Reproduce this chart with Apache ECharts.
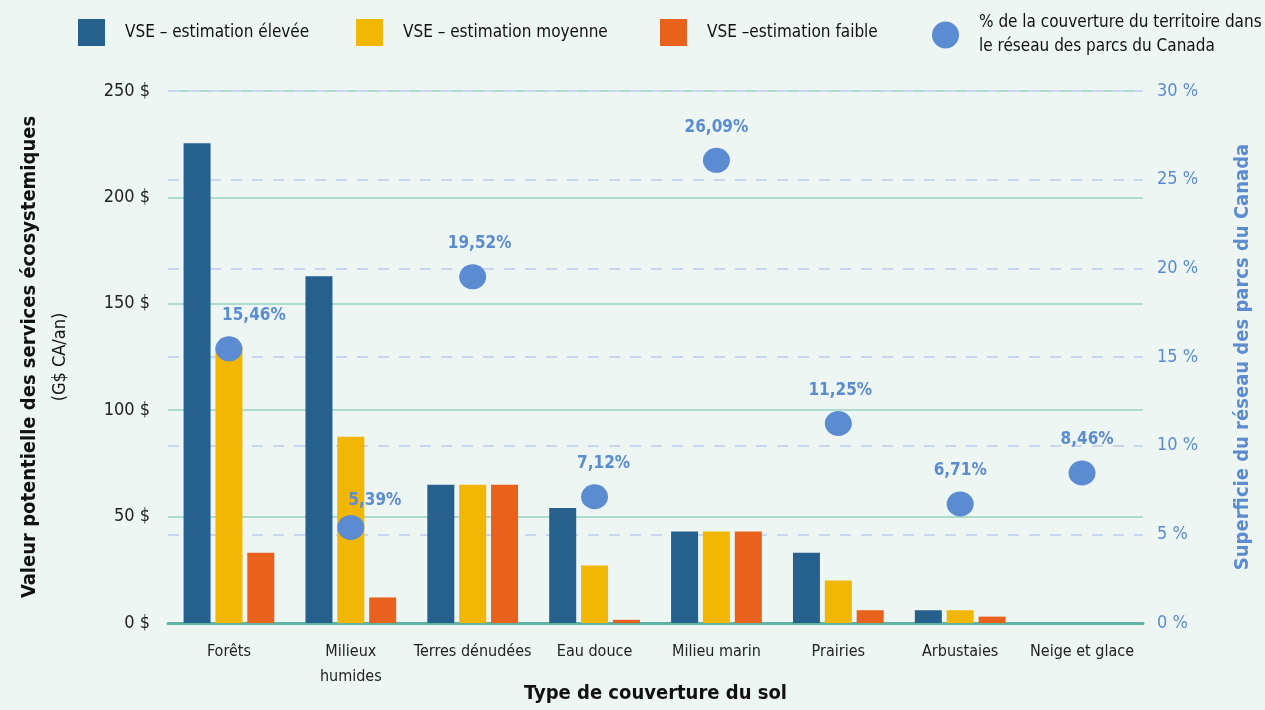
<!DOCTYPE html>
<html>
<head>
<meta charset="utf-8">
<script src="https://cdn.jsdelivr.net/npm/echarts@6/dist/echarts.min.js"></script>
<style>
  html, body { margin: 0; padding: 0; background: #eef6f3; }
  #chart { width: 1265px; height: 710px; }
</style>
</head>
<body>
<div id="chart"></div>
<script>
// données
const categories = ['Forêts', 'Milieux\nhumides', 'Terres dénudées', 'Eau douce', 'Milieu marin', 'Prairies', 'Arbustaies', 'Neige et glace'];
const vseHigh = [225.5, 163, 65, 54, 43, 33, 6, 0];
const vseMid = [130, 87.5, 65, 27, 43, 20, 6, 0];
const vseLow = [33, 12, 65, 1.5, 43, 6, 3, 0];
const parkShare = [15.46, 5.39, 19.52, 7.12, 26.09, 11.25, 6.71, 8.46];
const leftTicks = { min: 0, max: 250, interval: 50 };
const rightTicks = { min: 0, max: 30, interval: 5 };

const FONT = '"DejaVu Sans Condensed", "Liberation Sans Narrow", sans-serif';
const BLUE = '#26618e', YELLOW = '#f2b705', ORANGE = '#e8611d', DOT = '#5b8bd0';
// décalage horizontal des étiquettes de pourcentage (px)
const labelShift = [[25, 0], [24, 6], [7, 0], [9, 0], [0, 0], [2, 0], [0, 0], [5, 0]];

const names = ['VSE – estimation élevée', 'VSE – estimation moyenne', 'VSE –estimation faible',
  '% de la couverture du territoire dans\nle réseau des parcs du Canada'];

function legendAt(name, left, top, icon) {
  return {
    data: [name], left: left, top: top, icon: icon,
    itemWidth: 27, itemHeight: 27, itemGap: 0,
    textStyle: { fontFamily: FONT, fontSize: 17, color: '#111', padding: [0, 0, 0, 15], lineHeight: 24 }
  };
}

const chart = echarts.init(document.getElementById('chart'));
chart.setOption({
  backgroundColor: '#eef6f3',
  textStyle: { fontFamily: FONT },
  legend: [
    legendAt(names[0], 73, 14, 'rect'),
    legendAt(names[1], 351, 14, 'rect'),
    legendAt(names[2], 655, 14, 'rect'),
    legendAt(names[3], 927, 6, 'circle')
  ],
  grid: { left: 168, right: 122, top: 91, bottom: 87, outerBoundsMode: 'none' },
  xAxis: {
    type: 'category',
    data: categories,
    name: 'Type de couverture du sol',
    nameLocation: 'middle',
    nameGap: 61,
    nameMoveOverlap: false,
    nameTextStyle: { fontFamily: FONT, fontSize: 20, fontWeight: 'bold', color: '#111' },
    axisLine: { lineStyle: { color: '#5fb3a3', width: 3 } },
    axisTick: { show: false },
    axisLabel: { fontFamily: FONT, fontSize: 16, color: '#222', margin: 16, lineHeight: 25, interval: 0 }
  },
  yAxis: [
    {
      type: 'value',
      min: leftTicks.min, max: leftTicks.max, interval: leftTicks.interval,
      name: '{b|Valeur potentielle des services écosystemiques}\n{n|(G$ CA/an)}',
      nameLocation: 'middle',
      nameGap: 92,
      nameRotate: 90,
      nameMoveOverlap: false,
      nameTextStyle: {
        rich: {
          b: { fontFamily: FONT, fontSize: 20, fontWeight: 'bold', color: '#111', lineHeight: 31 },
          n: { fontFamily: FONT, fontSize: 18, color: '#111', lineHeight: 31 }
        }
      },
      axisLine: { show: false },
      axisTick: { show: false },
      axisLabel: { formatter: '{value} $', fontFamily: FONT, fontSize: 18, color: '#222', margin: 18 },
      splitLine: { lineStyle: { color: '#acdccd', width: 2 } }
    },
    {
      type: 'value',
      min: rightTicks.min, max: rightTicks.max, interval: rightTicks.interval,
      name: 'Superficie du réseau des parcs du Canada',
      nameLocation: 'middle',
      nameGap: 90,
      nameRotate: 90,
      nameMoveOverlap: false,
      nameTextStyle: { fontFamily: FONT, fontSize: 20, fontWeight: 'bold', color: DOT },
      axisLine: { show: false },
      axisTick: { show: false },
      axisLabel: { formatter: '{value} %', fontFamily: FONT, fontSize: 18, color: DOT, margin: 14 },
      splitLine: { lineStyle: { color: '#c8d6ee', width: 2, type: [11, 10] } }
    }
  ],
  series: [
    { name: names[0], type: 'bar', data: vseHigh, barWidth: 27, barGap: '18%', itemStyle: { color: BLUE } },
    { name: names[1], type: 'bar', data: vseMid, barWidth: 27, barGap: '18%', itemStyle: { color: YELLOW } },
    { name: names[2], type: 'bar', data: vseLow, barWidth: 27, barGap: '18%', itemStyle: { color: ORANGE } },
    {
      name: names[3], type: 'scatter', yAxisIndex: 1, symbolSize: [27, 25], z: 5,
      data: parkShare.map((v, i) => ({ value: v, label: { offset: labelShift[i] } })),
      itemStyle: { color: DOT, opacity: 1 },
      label: {
        show: true, position: 'top', distance: 12,
        fontFamily: FONT, fontSize: 17, fontWeight: 'bold', color: DOT,
        formatter: p => p.value.toFixed(2).replace('.', ',') + '%'
      }
    }
  ]
});
</script>
</body>
</html>
